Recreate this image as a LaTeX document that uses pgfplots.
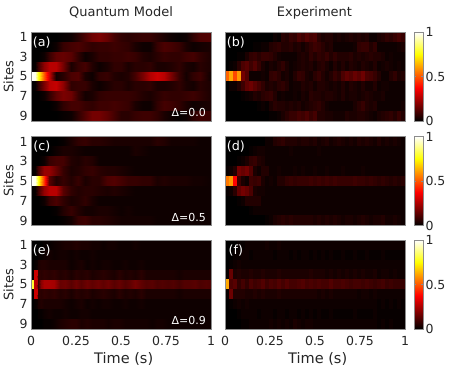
\documentclass[border=0pt]{standalone}
\usepackage{pgfplots}
\usepackage{pgfplotstable}
\usepackage{fontspec}
\setmainfont{DejaVu Sans}
\pgfplotsset{compat=1.18}
\pgfplotstableread{
t s1 s2 s3 s4 s5 s6 s7 s8 s9
0 0 0 0 0 100 0 0 0 0
.02 0 0 0 1 98 1 0 0 0
.04 0 0 0 9 78 7 0 0 0
.07 0 0 2 21 50 18 2 0 0
.10 0 0 8 27 30 27 7 0 0
.14 0 2 14 27 3 29 14 2 0
.18 1 8 15 17 6 21 18 7 1
.22 2 10 13 4 11 7 16 10 2
.26 6 11 7 8 12 8 8 10 7
.30 11 9 2 10 4 8 3 8 12
.34 16 7 4 5 2 4 4 7 17
.38 18 8 7 2 7 2 7 9 17
.42 15 8 7 4 8 4 8 9 14
.46 10 9 8 7 5 6 8 10 10
.50 7 8 8 7 4 6 8 9 6
.54 6 7 9 4 5 4 8 8 6
.58 7 4 8 6 10 6 7 4 8
.62 8 2 5 6 18 6 5 2 9
.66 8 2 4 7 26 7 4 2 9
.70 6 8 6 4 30 4 6 7 7
.74 4 11 8 4 27 4 8 10 4
.78 2 10 7 5 18 5 7 9 2
.82 1 8 7 7 8 7 7 7 1
.86 2 4 9 4 3 4 8 4 2
.90 7 2 10 3 7 3 9 2 6
.94 11 3 7 6 9 6 7 3 9
1 12 4 4 4 2 4 4 4 8
}\dataA
\pgfplotstableread{
t s1 s2 s3 s4 s5 s6 s7 s8 s9
0 0 0 0 0 100 0 0 0 0
.02 0 0 0 1 98 1 0 0 0
.04 0 0 0 10 78 9 0 0 0
.07 0 0 2 22 45 22 2 0 0
.10 0 0 8 22 13 27 8 0 0
.14 0 2 10 15 5 27 11 1 0
.18 1 4 10 8 8 13 7 5 1
.22 4 4 5 4 5 7 4 8 3
.26 7 3 4 5 8 5 5 5 8
.30 8 2 6 7 4 6 7 3 9
.34 6 2 5 8 6 6 4 3 6
.38 6 2 2 6 6 5 2 4 6
.42 5 2 2 5 11 4 2 4 5
.46 4 2 2 5 12 5 2 3 4
.50 4 2 2 4 10 4 2 2 3
.54 4 2 2 3 8 3 2 3 3
.58 4 4 2 2 8 2 2 2 3
.62 4 3 2 2 7 2 2 2 3
.66 4 2 2 2 7 2 2 2 3
.70 6 2 2 2 4 2 2 2 2
.74 5 2 2 2 5 2 2 2 2
.78 3 2 2 2 4 2 2 2 2
.82 3 2 2 2 4 2 2 2 2
.86 3 2 2 2 4 2 2 2 2
.90 3 2 2 2 3 2 2 2 2
.94 2 2 2 2 3 2 2 2 2
1 2 2 2 2 2 2 2 2 2
}\dataC
\pgfplotstableread{
t s1 s2 s3 s4 s5 s6 s7 s8 s9
0 0 0 0 0 82 0 0 0 0
.016 0 0 0 0 78 0 0 0 0
.018 0 0 1 30 28 30 1 0 0
.034 0 0 2 30 26 30 2 0 0
.04 0 1 4 7 8 7 4 1 0
.055 0 1 5 6 20 6 5 1 0
.07 1 2 5 7 25 7 4 2 1
.10 1 3 4 6 25 6 4 3 1
.13 2 2 4 7 24 7 4 2 2
.16 3 3 4 5 15 5 4 2 4
.19 4 3 4 6 16 6 3 3 5
.22 4 2 2 4 13 4 2 2 6
.25 5 3 3 6 16 6 3 2 6
.28 4 2 4 5 13 5 4 3 4
.31 4 2 2 6 16 6 2 3 5
.34 3 3 3 4 14 4 3 2 4
.37 3 2 2 5 16 5 2 2 4
.40 2 2 3 6 14 6 3 2 4
.43 3 2 3 5 16 5 3 2 3
.46 3 2 2 4 13 4 2 2 4
.49 2 2 2 6 15 6 2 2 4
.52 2 2 3 4 12 4 3 2 3
.55 2 2 2 5 14 5 2 2 3
.58 3 2 2 4 17 4 2 2 3
.61 2 2 3 6 14 6 3 2 3
.64 2 2 2 4 12 4 2 2 3
.67 2 2 2 4 13 4 2 2 2
.70 2 2 2 4 11 4 2 2 3
.73 2 2 2 4 12 4 2 2 3
.76 2 2 2 4 11 4 2 2 2
.79 2 2 2 4 12 4 2 2 2
.82 2 2 2 3 10 3 2 2 2
.85 2 2 2 4 12 4 2 2 2
.88 2 2 2 4 12 4 2 2 2
.91 2 2 2 4 13 4 2 2 2
.94 2 2 2 4 11 4 2 2 2
.97 2 2 2 4 12 4 2 2 2
1 2 2 2 4 11 4 2 2 2
}\dataE
\pgfplotstableread{
s1 s2 s3 s4 s5 s6 s7 s8 s9
0 0 0 0 52 0 0 0 0
0 0 0 1 62 2 0 0 0
0 0 0 2 48 2 0 0 0
0 0 1 6 60 5 0 0 0
0 0 1 11 17 9 1 0 0
0 0 4 13 12 14 2 0 0
0 0 7 9 2 16 3 0 0
0 1 8 12 2 13 5 0 0
0 1 6 8 2 10 4 1 0
0 2 8 4 3 7 6 2 0
0 2 8 2 2 4 7 1 0
0 5 7 4 7 5 8 4 1
2 6 5 3 8 4 5 6 1
1 7 3 5 6 6 2 5 2
6 5 2 7 3 7 3 5 4
5 5 2 4 4 5 2 4 6
8 6 2 2 2 2 2 5 8
7 4 2 3 5 3 3 4 8
11 5 4 4 8 3 2 5 10
9 3 5 5 7 5 4 3 9
12 5 4 4 4 4 3 4 11
10 7 7 5 3 5 6 5 8
11 9 5 3 6 3 5 6 10
6 8 7 5 8 5 5 7 5
4 6 6 6 5 5 4 5 5
5 4 8 4 3 4 5 3 4
5 5 5 2 5 3 5 2 4
3 2 7 5 8 4 4 2 3
4 2 5 3 6 3 3 2 3
3 2 5 5 11 5 5 2 3
4 2 5 3 14 3 3 2 5
5 2 6 5 12 5 4 2 4
4 3 4 4 15 4 4 4 4
5 7 5 3 13 3 3 6 5
4 8 4 5 16 5 4 8 5
5 8 5 4 11 3 5 5 4
2 5 6 3 10 3 4 4 3
2 7 5 5 8 5 3 5 2
4 2 5 2 5 2 3 2 4
5 2 4 3 2 3 4 2 5
7 2 2 4 2 3 2 2 6
6 2 3 3 5 2 2 2 7
8 2 2 2 7 2 2 2 5
10 3 2 3 4 2 2 2 8
8 4 2 2 5 2 2 3 5
5 3 2 2 3 2 2 2 5
}\dataB
\pgfplotstableread{
s1 s2 s3 s4 s5 s6 s7 s8 s9
0 0 0 1 55 1 0 0 0
0 0 0 2 60 2 0 0 0
0 0 0 5 38 6 0 0 0
0 0 1 17 9 14 1 0 0
0 0 2 15 4 17 2 0 0
0 0 4 17 2 15 5 0 0
0 1 7 12 9 11 5 1 0
0 2 8 4 8 4 5 2 0
0 3 5 2 9 3 5 2 0
0 3 4 5 4 3 2 2 0
2 2 2 5 2 2 2 2 1
2 2 2 2 3 2 2 2 2
5 2 2 2 2 2 2 2 4
6 2 2 3 5 2 2 2 5
7 2 2 2 5 2 2 2 6
5 2 2 2 7 2 2 2 5
5 3 2 2 8 2 2 2 6
5 2 2 3 7 2 2 2 5
4 2 2 2 8 2 2 2 5
5 2 2 3 8 2 2 2 5
5 2 2 2 8 2 2 2 5
4 2 2 2 9 2 2 2 5
5 2 2 3 8 2 2 2 4
3 3 2 2 9 2 2 2 5
4 2 2 2 8 2 2 2 4
5 2 2 3 9 2 2 2 5
3 2 2 2 8 2 2 2 4
4 2 2 2 9 2 2 2 5
5 2 2 2 8 2 2 2 4
4 2 2 3 8 2 2 2 3
3 2 2 2 8 2 2 2 4
4 2 2 2 8 2 2 2 4
3 2 2 2 9 2 2 2 3
5 2 2 2 8 2 2 2 4
4 2 2 3 8 2 2 2 5
5 2 2 2 7 2 2 2 4
4 2 2 2 8 2 2 2 3
3 2 2 2 7 2 2 2 4
5 2 2 2 6 2 2 2 4
3 2 2 2 7 2 2 2 5
4 2 2 2 6 2 2 2 3
3 2 2 2 5 2 2 2 3
4 2 2 2 6 2 2 2 4
3 2 2 2 5 2 2 2 3
2 2 2 2 6 2 2 2 2
2 2 2 2 5 2 2 2 2
}\dataD
\pgfplotstableread{
s1 s2 s3 s4 s5 s6 s7 s8 s9
0 0 0 1 62 1 0 0 0
0 0 1 15 11 16 1 0 0
0 1 2 4 13 5 2 0 0
1 1 3 5 7 5 3 1 0
1 2 2 4 10 5 2 2 1
2 2 2 4 7 4 3 2 1
2 1 2 5 11 4 2 2 2
2 2 2 4 9 5 2 2 2
2 2 2 4 10 4 2 1 2
2 2 2 5 12 5 2 2 2
3 2 2 4 9 4 2 2 2
2 2 2 4 11 4 2 2 3
2 1 2 4 10 4 2 1 2
3 2 2 5 12 5 2 2 3
2 2 2 4 10 4 2 2 2
2 2 2 4 12 4 2 1 3
2 1 2 4 10 4 2 2 2
2 2 2 4 10 4 2 2 4
2 1 2 4 11 4 2 1 3
2 2 2 4 12 4 2 2 2
2 2 2 4 10 4 2 1 3
2 1 2 5 11 4 2 2 3
2 2 2 4 10 4 2 1 2
2 1 2 4 11 3 2 2 2
2 2 2 4 10 4 2 1 2
2 1 2 3 10 3 2 1 2
2 2 2 4 12 4 2 2 2
2 1 2 3 10 3 2 1 2
2 1 2 4 10 3 2 1 2
2 2 2 3 11 3 2 1 2
2 1 2 4 10 3 2 1 2
2 1 2 3 9 3 2 1 2
2 2 2 4 10 3 2 2 2
2 1 2 3 10 2 2 1 2
2 1 2 4 9 3 2 1 2
2 2 2 3 10 3 2 1 2
2 1 2 3 9 2 2 1 2
2 1 2 4 8 3 2 2 2
2 1 2 2 9 2 1 1 1
2 2 2 3 10 2 2 1 2
2 1 2 3 8 2 1 1 1
2 1 2 2 9 2 2 1 2
2 1 2 3 8 2 1 1 1
2 1 2 2 8 2 2 1 1
2 1 2 2 8 2 1 1 1
2 1 2 2 8 2 1 1 1
}\dataF
\pgfplotstablevertcat{\dblA}{\dataA}\pgfplotstablevertcat{\dblA}{\dataA}
\pgfplotstablevertcat{\dblC}{\dataC}\pgfplotstablevertcat{\dblC}{\dataC}
\pgfplotstablevertcat{\dblE}{\dataE}\pgfplotstablevertcat{\dblE}{\dataE}
\pgfplotstablevertcat{\dblB}{\dataB}\pgfplotstablevertcat{\dblB}{\dataB}
\pgfplotstablevertcat{\dblD}{\dataD}\pgfplotstablevertcat{\dblD}{\dataD}
\pgfplotstablevertcat{\dblF}{\dataF}\pgfplotstablevertcat{\dblF}{\dataF}
% model panels: one interpolated strip per site
\newcommand\stripsT[2]{\pgfplotsinvokeforeach{1,...,9}{%
  \addplot[surf,shader=interp,mesh/rows=2,mesh/cols=#2,point meta={\thisrow{s##1}/100}]
    table[x=t,y expr={##1-0.5+(\coordindex>=#2?1:0)}]{#1};}}
% experiment panels: 45 flat cells per site
\newcommand\stripsF[1]{\pgfplotsinvokeforeach{1,...,9}{%
  \addplot[surf,shader=flat corner,mesh/rows=2,mesh/cols=46,point meta={\thisrow{s##1}/100}]
    table[x expr={mod(\coordindex,46)/45},y expr={##1-0.5+(\coordindex>=46?1:0)}]{#1};}}
\pgfplotsset{
  colormap={hot}{rgb255(0cm)=(0,0,0); rgb255(3cm)=(255,0,0); rgb255(6cm)=(255,255,0); rgb255(8cm)=(255,255,255)},
  panel/.style={
    scale only axis, width=180bp, height=89bp, anchor=north west,
    xmin=0,xmax=1,ymin=0.5,ymax=9.5,y dir=reverse,
    point meta min=0,point meta max=1,
    axis on top,
    axis line style={draw=black!45,line width=0.5bp},
    tick style={draw=none},
    xtick={0,0.25,0.5,0.75,1},
    xticklabels={},
    ytick={1,3,5,7,9},
    yticklabels={},
    tick label style={font=\fontsize{12.5bp}{14bp}\selectfont,text=black!85},
    xticklabel style={yshift=-3.5bp},
    /pgf/number format/assume math mode=true,
    clip=true,
  },
  leftp/.style={yticklabels={1,3,5,7,9},ylabel={Sites},ylabel style={at={(axis description cs:-0.125,0.5)},anchor=center,font=\fontsize{13bp}{15bp}\selectfont,text=black!85}},
  bottomp/.style={xticklabels={0,0.25,0.5,0.75,1},xlabel={Time (s)},xlabel style={at={(axis description cs:0.515,-0.337)},anchor=center,font=\fontsize{14.5bp}{17bp}\selectfont,text=black!85}},
  cbar/.style={colorbar,colorbar style={
    at={(1.05,1)},anchor=north west,width=9bp,
    ytick={0,0.5,1},yticklabels={0,0.5,1},ticklabel pos=right,
    y dir=normal,
    axis line style={draw=black!45,line width=0.4bp},
    major tick length=2bp,
    tick style={draw=black!45},
    yticklabel style={font=\fontsize{12.5bp}{14bp}\selectfont,text=black!85,xshift=-1bp},
    xtick=\empty,
  }},
}
\newcommand\ptxt[1]{\node[white,anchor=center,inner sep=0pt,font=\fontsize{12.7bp}{15bp}\selectfont] at (rel axis cs:0.06,0.882) {#1};}
\newcommand\dtxt[1]{\node[white,anchor=east,inner sep=0pt,font=\fontsize{11bp}{13bp}\selectfont] at (rel axis cs:0.972,0.093) {#1};}
\begin{document}
\begin{tikzpicture}[x=1bp,y=1bp]
\path[use as bounding box] (0,0) rectangle (449,373);
\node[font=\fontsize{13bp}{15bp}\selectfont,text=black!85] at (121,360.3) {Quantum Model};
\node[font=\fontsize{13bp}{15bp}\selectfont,text=black!85] at (314.5,360.3) {Experiment};

\begin{axis}[panel,leftp,at={(31bp,341bp)}]
\stripsT{\dblA}{27}
\ptxt{(a)}
\dtxt{Δ=0.0}
\end{axis}
\begin{axis}[panel,cbar,at={(225bp,341bp)}]
\stripsF{\dblB}
\ptxt{(b)}
\end{axis}
\begin{axis}[panel,leftp,at={(31bp,236.5bp)}]
\stripsT{\dblC}{27}
\ptxt{(c)}
\dtxt{Δ=0.5}
\end{axis}
\begin{axis}[panel,cbar,at={(225bp,236.5bp)}]
\stripsF{\dblD}
\ptxt{(d)}
\end{axis}
\begin{axis}[panel,leftp,bottomp,at={(31bp,133bp)}]
\stripsT{\dblE}{38}
\ptxt{(e)}
\dtxt{Δ=0.9}
\end{axis}
\begin{axis}[panel,cbar,bottomp,at={(225bp,133bp)}]
\stripsF{\dblF}
\ptxt{(f)}
\end{axis}
\end{tikzpicture}
\end{document}
